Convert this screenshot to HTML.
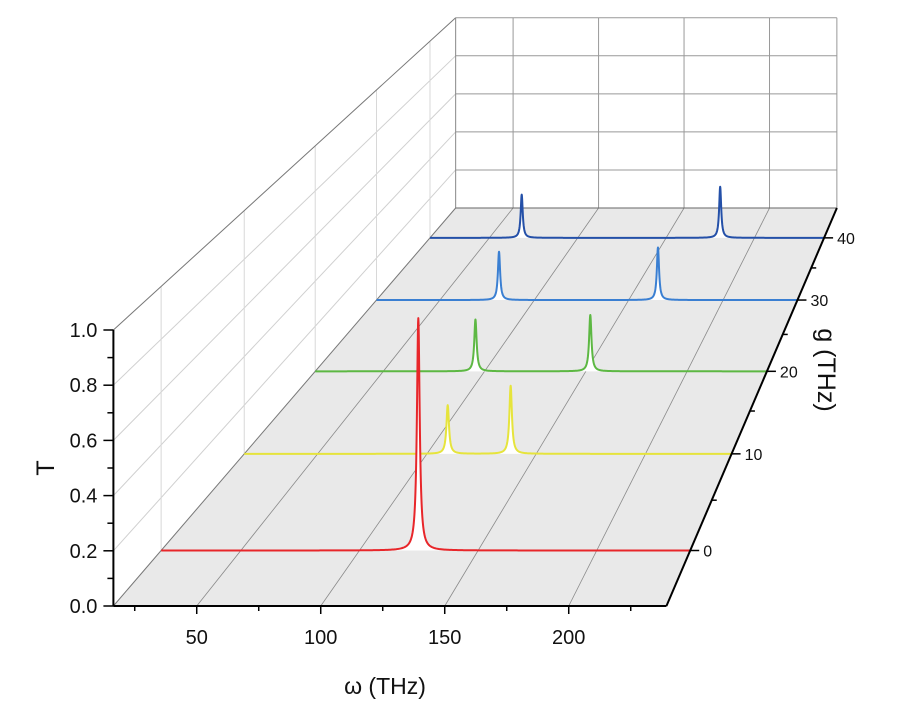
<!DOCTYPE html>
<html><head><meta charset="utf-8"><style>
html,body{margin:0;padding:0;background:#fff;width:920px;height:702px;overflow:hidden}
svg text{font-family:"Liberation Sans",sans-serif;fill:#111}
</style></head><body>
<svg id="chart" width="920" height="702" viewBox="0 0 920 702" xmlns="http://www.w3.org/2000/svg"></svg>
<script>
// ---- data ----
const gValues = [0, 10, 20, 30, 40];
const seriesColors = ["#e8262a", "#e6e43c", "#5db843", "#3a7fd2", "#2450a8"];
const peakCenters = [[124.8], [109.5, 138.3], [95.5, 152.2], [81.3, 165.5], [68.3, 180.6]];
const peakHeights = [[0.88], [0.20, 0.28], [0.23, 0.25], [0.23, 0.25], [0.22, 0.26]];
const peakWidth = 0.7;
const xTicks = [50, 100, 150, 200];
const xMinorTicks = [25, 75, 125, 175, 225];
const yTicks = [0, 0.2, 0.4, 0.6, 0.8, 1.0];
const yMinorTicks = [0.1, 0.3, 0.5, 0.7, 0.9];
const gTicks = [0, 10, 20, 30, 40];
const gMinorTicks = [5, 15, 25, 35];

// ---- axes / projection ----
const W_MIN = 16.4, W_MAX = 239.4, G_MIN = -5.06, G_MAX = 45.3;
const FX0 = 113.4, PXW = 2.48, FY0 = 606, PXT = 276;
const VPX = 1215, VPY = -675, KG = 0.00895;
function proj(w, g, t) {
  const fx = FX0 + (w - W_MIN) * PXW, fy = FY0 - t * PXT;
  const s = 1 / (1 + KG * (g - G_MIN));
  return [VPX + (fx - VPX) * s, VPY + (fy - VPY) * s];
}
const svg = document.getElementById('chart');
const NS = "http://www.w3.org/2000/svg";
function mk(tag, attrs, name) {
  const e = document.createElementNS(NS, tag);
  for (const k in attrs) e.setAttribute(k, attrs[k]);
  
  
  svg.appendChild(e);
  return e;
}
function line(p, q, stroke, sw, name) {
  return mk('line', {x1: p[0], y1: p[1], x2: q[0], y2: q[1], stroke: stroke, 'stroke-width': sw}, name);
}
function pts(a) { return a.map(p => p[0].toFixed(2) + "," + p[1].toFixed(2)).join(" "); }

// left wall grid
for (const t of [0.2, 0.4, 0.6, 0.8]) line(proj(W_MIN, G_MIN, t), proj(W_MIN, G_MAX, t), "#d0d0d0", 1, 'left-wall-gridline');
for (const g of gTicks) line(proj(W_MIN, g, 0), proj(W_MIN, g, 1), "#d8d8d8", 1, 'left-wall-gridline');
line(proj(W_MIN, G_MIN, 1), proj(W_MIN, G_MAX, 1), "#777", 1, 'left-wall-top-edge');
// back wall
for (const t of [0.2, 0.4, 0.6, 0.8, 1.0]) line(proj(W_MIN, G_MAX, t), proj(W_MAX, G_MAX, t), "#999", 1, 'back-wall-gridline');
for (const w of xTicks) line(proj(w, G_MAX, 0), proj(w, G_MAX, 1), "#999", 1, 'back-wall-gridline');
line(proj(W_MIN, G_MAX, 0), proj(W_MIN, G_MAX, 1), "#888", 1, 'back-wall-left-edge');
line(proj(W_MAX, G_MAX, 0), proj(W_MAX, G_MAX, 1), "#999", 1, 'back-wall-right-edge');
// floor
mk('polygon', {points: pts([proj(W_MIN, G_MIN, 0), proj(W_MAX, G_MIN, 0), proj(W_MAX, G_MAX, 0), proj(W_MIN, G_MAX, 0)]), fill: "#e9e9e9", stroke: "none"}, 'floor-plane');
for (const w of xTicks) line(proj(w, G_MIN, 0), proj(w, G_MAX, 0), "#8a8a8a", 0.8, 'floor-gridline');
line(proj(W_MIN, G_MIN, 0), proj(W_MIN, G_MAX, 0), "#777", 1, 'floor-left-edge');
line(proj(W_MIN, G_MAX, 0), proj(W_MAX, G_MAX, 0), "#666", 1, 'floor-back-edge');

// series, back to front
for (let i = gValues.length - 1; i >= 0; i--) {
  const g = gValues[i];
  const ws = [];
  for (let w = W_MIN; w <= W_MAX; w += 0.5) ws.push(w);
  for (const c of peakCenters[i]) for (let d = -6; d <= 6; d += 0.1) ws.push(c + d);
  ws.sort((a, b) => a - b);
  const p = ws.filter(w => w >= W_MIN && w <= W_MAX).map(w => {
    let t = 0;
    peakCenters[i].forEach((c, j) => { t += peakHeights[i][j] * peakWidth * peakWidth / ((w - c) * (w - c) + peakWidth * peakWidth); });
    return proj(w, g, t);
  });
  const fillPts = p.concat([proj(W_MAX, g, 0), proj(W_MIN, g, 0)]);
  mk('polygon', {points: pts(fillPts), fill: "#fff", stroke: "none"}, 'series-fill-g' + g);
  mk('polyline', {points: pts(p), fill: "none", stroke: seriesColors[i], 'stroke-width': 2, 'stroke-linejoin': 'round'}, 'series-line-g' + g);
}

// axes
line(proj(W_MIN, G_MIN, 0), proj(W_MAX, G_MIN, 0), "#000", 2, 'x-axis-line');
line(proj(W_MIN, G_MIN, 0), proj(W_MIN, G_MIN, 1), "#000", 2, 'y-axis-line');
line(proj(W_MAX, G_MIN, 0), proj(W_MAX, G_MAX, 0), "#000", 2, 'g-axis-line');
for (const w of xTicks) {
  const p = proj(w, G_MIN, 0);
  line(p, [p[0], p[1] + 8], "#000", 1.5, 'x-tick');
  const t = mk('text', {x: p[0], y: p[1] + 38, 'font-size': 20, 'text-anchor': 'middle'}, 'x-tick-label');
  t.textContent = w;
}
for (const w of xMinorTicks) { const p = proj(w, G_MIN, 0); line(p, [p[0], p[1] + 5], "#000", 1.5, 'x-minor-tick'); }
for (const v of yTicks) {
  const p = proj(W_MIN, G_MIN, v);
  line(p, [p[0] - 10, p[1]], "#000", 1.5, 'y-tick');
  const t = mk('text', {x: p[0] - 16, y: p[1] + 7, 'font-size': 20, 'text-anchor': 'end'}, 'y-tick-label');
  t.textContent = v.toFixed(1);
}
for (const v of yMinorTicks) { const p = proj(W_MIN, G_MIN, v); line(p, [p[0] - 6, p[1]], "#000", 1.5, 'y-minor-tick'); }
for (const g of gTicks) {
  const p = proj(W_MAX, g, 0);
  line(p, [p[0] + 9, p[1]], "#000", 1.5, 'g-tick');
  const t = mk('text', {x: p[0] + 13, y: p[1] + 6, 'font-size': 16}, 'g-tick-label');
  t.textContent = g;
}
for (const g of gMinorTicks) { const p = proj(W_MAX, g, 0); line(p, [p[0] + 5, p[1]], "#000", 1.5, 'g-minor-tick'); }

const xt = mk('text', {x: 385, y: 694, 'font-size': 23, 'text-anchor': 'middle'}, 'x-axis-title');
xt.textContent = "ω (THz)";
const yt = mk('text', {x: 54, y: 468, 'font-size': 25, 'text-anchor': 'middle', transform: 'rotate(-90 54 468)'}, 'y-axis-title');
yt.textContent = "T";
const gt = mk('text', {x: 818, y: 370, 'font-size': 25, 'text-anchor': 'middle', transform: 'rotate(90 818 370)'}, 'g-axis-title');
gt.textContent = "g (THz)";
</script>
</body></html>
